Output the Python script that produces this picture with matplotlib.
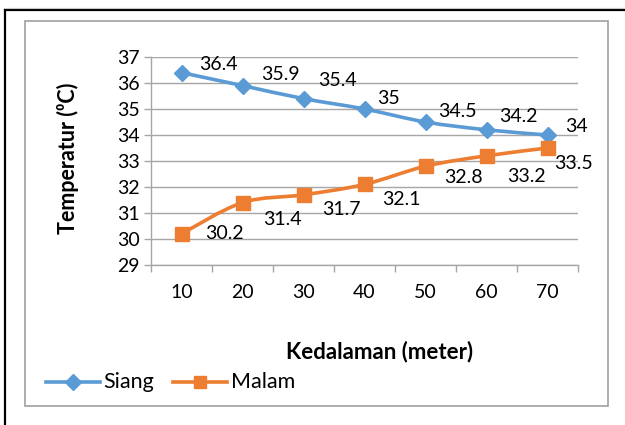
import matplotlib
matplotlib.use("Agg")
import matplotlib.pyplot as plt
from matplotlib.path import Path
from matplotlib.patches import PathPatch, Rectangle
from matplotlib.lines import Line2D
import numpy as np

# Data
depths = [10, 20, 30, 40, 50, 60, 70]
siang = [36.4, 35.9, 35.4, 35.0, 34.5, 34.2, 34.0]
malam = [30.2, 31.4, 31.7, 32.1, 32.8, 33.2, 33.5]
siang_labels = ["36.4", "35.9", "35.4", "35", "34.5", "34.2", "34"]
malam_labels = ["30.2", "31.4", "31.7", "32.1", "32.8", "33.2", "33.5"]
y_ticks = [29, 30, 31, 32, 33, 34, 35, 36, 37]

BLUE = "#5B9BD5"
ORANGE = "#ED7D31"
GRID = "#A6A6A6"
FONT = ["Lato", "DejaVu Sans"]
FS = 14

plt.rcParams["font.family"] = FONT

W, H = 625, 425
fig = plt.figure(figsize=(W / 100, H / 100), dpi=100)


def fx(px):
    return px / W


def fy(py):
    return 1 - py / H


# Page frame and chart border
fig.add_artist(Line2D([fx(5), fx(5)], [fy(10), fy(425)], color="black", lw=1.6,
                      transform=fig.transFigure))
fig.add_artist(Line2D([fx(5), fx(625)], [fy(10), fy(10)], color="black", lw=1.6,
                      transform=fig.transFigure))
fig.add_artist(Line2D([fx(5), fx(625)], [fy(8), fy(8)], color="#C8C8C8", lw=0.8,
                      transform=fig.transFigure))
fig.add_artist(Rectangle((fx(25), fy(406)), fx(608) - fx(25), fy(21) - fy(406),
                         transform=fig.transFigure, fill=False,
                         edgecolor="#A0A0A0", lw=1.2))

ax = fig.add_axes([fx(151), fy(265), fx(578) - fx(151), fy(57) - fy(265)])
x = np.arange(len(depths))


def smooth_path(xs, ys):
    pts = np.column_stack([xs, ys]).astype(float)
    verts = [pts[0]]
    codes = [Path.MOVETO]
    n = len(pts)
    for i in range(n - 1):
        p0 = pts[i - 1] if i > 0 else pts[i]
        p1 = pts[i]
        p2 = pts[i + 1]
        p3 = pts[i + 2] if i + 2 < n else pts[i + 1]
        c1 = p1 + (p2 - p0) / 6.0
        c2 = p2 - (p3 - p1) / 6.0
        verts += [c1, c2, p2]
        codes += [Path.CURVE4] * 3
    return Path(verts, codes)


for vals, col in [(siang, BLUE), (malam, ORANGE)]:
    ax.add_patch(PathPatch(smooth_path(x, vals), facecolor="none",
                           edgecolor=col, lw=2.6, capstyle="round", zorder=3))

ax.plot(x, siang, linestyle="none", marker="D", ms=8.5, color=BLUE,
        markeredgecolor=BLUE, zorder=4)
ax.plot(x, malam, linestyle="none", marker="s", ms=10, color=ORANGE,
        markeredgecolor=ORANGE, zorder=4)

# Data labels (offsets in points from each marker)
siang_off = [(13, 7.2), (13.7, 9.4), (10.8, 14.4), (9.4, 8.6),
             (9.4, 8.6), (9.4, 10.8), (13, 7.2)]
malam_off = [(17.3, 1.0), (15.1, -10.8), (13.7, -9.4), (13, -10),
             (13.7, -7.2), (15.1, -13.7), (5, -10)]
for xi, v, s, (dx, dy) in zip(x, siang, siang_labels, siang_off):
    ax.annotate(s, (xi, v), xytext=(dx, dy), textcoords="offset points",
                ha="left", va="center_baseline", fontsize=FS, color="black")
for xi, v, s, (dx, dy) in zip(x, malam, malam_labels, malam_off):
    ax.annotate(s, (xi, v), xytext=(dx, dy), textcoords="offset points",
                ha="left", va="center_baseline", fontsize=FS, color="black")

ax.set_xlim(-0.5, len(depths) - 0.5)
ax.set_ylim(y_ticks[0], y_ticks[-1])
ax.set_yticks(y_ticks)
ax.set_xticks(x)
ax.set_xticklabels([str(d) for d in depths])
ax.set_xticks(np.arange(-0.5, len(depths)), minor=True)
ax.tick_params(axis="x", which="major", length=0, pad=14, labelsize=FS)
ax.tick_params(axis="x", which="minor", length=5, color=GRID, width=1)
ax.tick_params(axis="y", which="major", length=5, color=GRID, width=1,
               pad=3, labelsize=FS)
ax.grid(axis="y", color=GRID, lw=1)
ax.set_axisbelow(True)
for side in ["top", "right"]:
    ax.spines[side].set_visible(False)
for side in ["left", "bottom"]:
    ax.spines[side].set_color(GRID)
    ax.spines[side].set_linewidth(1)

fig.text(fx(68), fy(158), "Temperatur (\u2070C)", rotation=90, ha="center",
         va="center", fontsize=15.5, fontweight="bold")
fig.text(fx(380), fy(352), "Kedalaman (meter)", ha="center", va="center",
         fontsize=16, fontweight="bold")

# Legend
ly = fy(382)
fig.add_artist(Line2D([fx(46), fx(73), fx(100)], [ly, ly, ly], color=BLUE, lw=2.6,
                      marker="D", markevery=[1], ms=8, transform=fig.transFigure))
fig.add_artist(Line2D([fx(173), fx(200), fx(227)], [ly, ly, ly], color=ORANGE,
                      lw=2.6, marker="s", markevery=[1], ms=9,
                      transform=fig.transFigure))
fig.text(fx(103), ly, "Siang", ha="left", va="center", fontsize=15.5)
fig.text(fx(231), ly, "Malam", ha="left", va="center", fontsize=15.5)

fig.savefig("out.png", dpi=100)
